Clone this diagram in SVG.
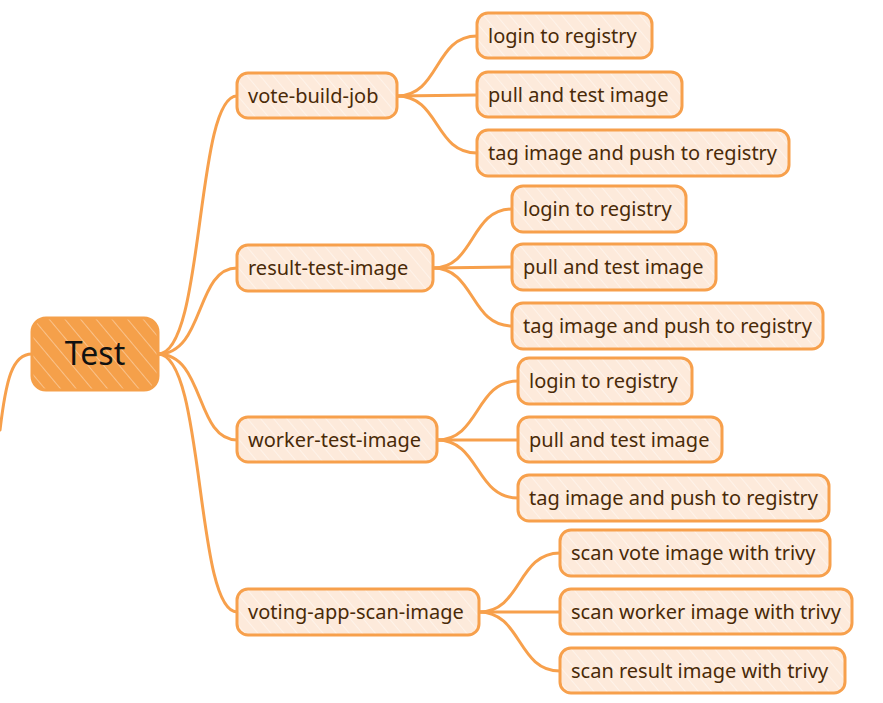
<svg xmlns="http://www.w3.org/2000/svg" width="883" height="703" viewBox="0 0 883 703">
<defs>
<pattern id="hatchL" patternUnits="userSpaceOnUse" width="10" height="10" patternTransform="rotate(-40)">
<rect width="10" height="10" fill="#FDEADB"/>
<line x1="0" y1="0" x2="0" y2="10" stroke="#FFFFFF" stroke-width="1.2" stroke-opacity="0.7"/>
</pattern>
<pattern id="hatchR" patternUnits="userSpaceOnUse" width="12" height="12" patternTransform="rotate(-40)">
<rect width="12" height="12" fill="#F5A04A"/>
<line x1="0" y1="0" x2="0" y2="12" stroke="#FFFFFF" stroke-width="1.2" stroke-opacity="0.6"/>
</pattern>
</defs>
<style>
.n rect{fill:url(#hatchL);stroke:#F7A04C;stroke-width:3}
.n text{font-family:"Noto Sans",sans-serif;font-size:20px;fill:#4A2A08}
.root rect{fill:url(#hatchR);stroke:#F5A04A;stroke-width:3}
.root text{font-family:"Noto Sans",sans-serif;font-size:32px;fill:#111111}
.c path{fill:none;stroke:#F7A04C;stroke-width:3;stroke-linecap:round}
</style>
<rect width="883" height="703" fill="#FFFFFF"/>
<g class="c" id="connectors">
<path d="M32,354 C12,354 6,380 0,430"/>
<path d="M158,354 C205,354 195,96 237,96"/>
<path d="M158,354 C205,354 195,268 237,268"/>
<path d="M158,354 C205,354 195,440 237,440"/>
<path d="M158,354 C205,354 195,612 237,612"/>
<path d="M397,96 C440,96 434,36 477,36"/>
<path d="M397,96 L477,95"/>
<path d="M397,96 C440,96 434,153 477,153"/>
<path d="M433,268 C475,268 470,209 512,209"/>
<path d="M433,268 L512,267"/>
<path d="M433,268 C475,268 470,326 512,326"/>
<path d="M437,440 C480,440 475,381 518,381"/>
<path d="M437,440 L518,440"/>
<path d="M437,440 C480,440 475,498 518,498"/>
<path d="M479,612 C522,612 517,553 560,553"/>
<path d="M479,612 L560,612"/>
<path d="M479,612 C522,612 517,671 560,671"/>
</g>
<g class="root" id="node-test"><rect x="32" y="318" width="126" height="72" rx="14"/><text x="95" y="365" text-anchor="middle">Test</text></g>
<g class="n" id="node-vote-build-job"><rect x="237" y="73" width="160" height="45" rx="11"/><text x="248" y="103">vote-build-job</text></g>
<g class="n" id="node-result-test-image"><rect x="237" y="245" width="196" height="46" rx="11"/><text x="248" y="275">result-test-image</text></g>
<g class="n" id="node-worker-test-image"><rect x="237" y="417" width="200" height="45" rx="11"/><text x="248" y="447">worker-test-image</text></g>
<g class="n" id="node-voting-app-scan-image"><rect x="237" y="589" width="242" height="46" rx="11"/><text x="248" y="619">voting-app-scan-image</text></g>
<g class="n" id="node-v-login"><rect x="477" y="13" width="175" height="45" rx="11"/><text x="488" y="43">login to registry</text></g>
<g class="n" id="node-v-pull"><rect x="477" y="72" width="205" height="45" rx="11"/><text x="488" y="102">pull and test image</text></g>
<g class="n" id="node-v-tag"><rect x="477" y="130" width="312" height="46" rx="11"/><text x="488" y="160">tag image and push to registry</text></g>
<g class="n" id="node-r-login"><rect x="512" y="186" width="174" height="46" rx="11"/><text x="523" y="216">login to registry</text></g>
<g class="n" id="node-r-pull"><rect x="512" y="244" width="204" height="46" rx="11"/><text x="523" y="274">pull and test image</text></g>
<g class="n" id="node-r-tag"><rect x="512" y="303" width="311" height="46" rx="11"/><text x="523" y="333">tag image and push to registry</text></g>
<g class="n" id="node-w-login"><rect x="518" y="358" width="174" height="46" rx="11"/><text x="529" y="388">login to registry</text></g>
<g class="n" id="node-w-pull"><rect x="518" y="417" width="204" height="45" rx="11"/><text x="529" y="447">pull and test image</text></g>
<g class="n" id="node-w-tag"><rect x="518" y="475" width="311" height="46" rx="11"/><text x="529" y="505">tag image and push to registry</text></g>
<g class="n" id="node-s-vote"><rect x="560" y="530" width="270" height="46" rx="11"/><text x="571" y="560">scan vote image with trivy</text></g>
<g class="n" id="node-s-worker"><rect x="560" y="589" width="292" height="45" rx="11"/><text x="571" y="619">scan worker image with trivy</text></g>
<g class="n" id="node-s-result"><rect x="560" y="648" width="285" height="45" rx="11"/><text x="571" y="678">scan result image with trivy</text></g>
</svg>
